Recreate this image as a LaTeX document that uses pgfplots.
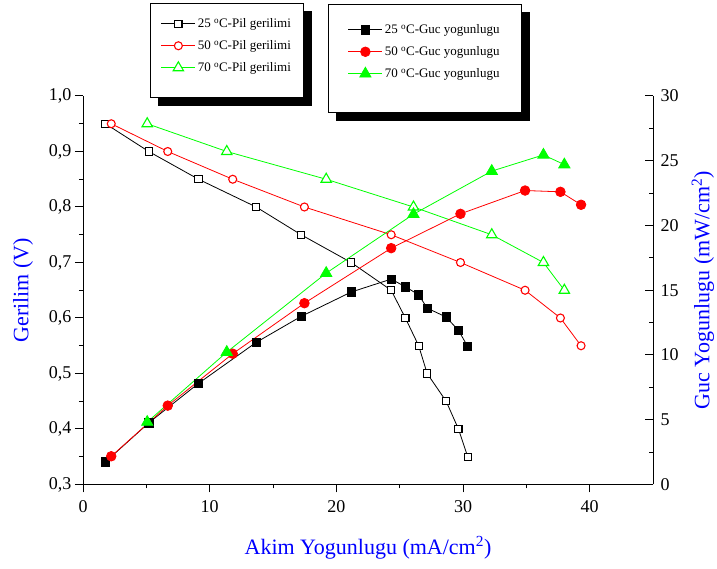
\documentclass[border=0pt]{standalone}
\usepackage{fontspec}
\setmainfont{Liberation Serif}
\usepackage{pgfplots}
\usepackage{pgfplotstable}
\pgfplotsset{compat=1.18}
\usetikzlibrary{backgrounds}
\definecolor{myred}{RGB}{255,0,0}
\definecolor{mygreen}{RGB}{0,255,0}
\definecolor{myblue}{RGB}{0,0,255}

\pgfplotstableread{
x V P
1.78 0.95 1.75
5.19 0.90 4.76
9.12 0.85 7.81
13.67 0.80 10.97
17.22 0.75 12.98
21.17 0.70 14.86
24.33 0.65 15.86
25.45 0.60 15.27
26.50 0.55 14.65
27.17 0.50 13.62
28.67 0.45 12.93
29.64 0.40 11.90
30.37 0.35 10.66
}\tA
\pgfplotstableread{
x V P
2.23 0.95 2.18
6.69 0.90 6.09
11.82 0.85 10.10
17.48 0.80 14.00
24.33 0.75 18.25
29.80 0.70 20.90
34.90 0.65 22.70
37.69 0.60 22.60
39.32 0.55 21.60
}\tB
\pgfplotstableread{
x V P
5.07 0.95 4.82
11.35 0.90 10.22
19.20 0.85 16.32
26.09 0.80 20.87
32.27 0.75 24.20
36.35 0.70 25.45
38.00 0.65 24.70
}\tC

\pgfplotsset{
  common/.style={
    at={(83pt,84.5pt)}, anchor=south west,
    scale only axis, width=570pt, height=388.5pt,
    xmin=0, xmax=45,
    axis line style={-, line width=1pt, black},
    major tick length=8pt, minor tick length=4pt,
    every tick/.style={black, line width=1pt},
    ticklabel style={font=\fontsize{18}{20}\selectfont},
    /pgf/number format/assume math mode=true,
    legend image code/.code={\draw[mark repeat=2,mark phase=2,##1] plot coordinates {(0pt,0pt) (17pt,0pt) (34pt,0pt)};},
  },
  lstyle/.style={draw=black, line width=1pt, fill=white,
    font=\fontsize{13}{15}\selectfont, cells={anchor=west},
    row sep=7.5pt},
}

\begin{document}
\begin{tikzpicture}[x=1pt,y=1pt]
\path[use as bounding box] (0,0) rectangle (717,569);
\begin{axis}[common,
  ymin=0.3, ymax=1.0,
  axis x line*=bottom, axis y line*=left,
  tick align=outside,
  xtick={0,10,20,30,40}, minor xtick={5,15,25,35},
  ytick={0.3,0.4,0.5,0.6,0.7,0.8,0.9,1.0},
  minor ytick={0.35,0.45,0.55,0.65,0.75,0.85,0.95},
  yticklabel style={/pgf/number format/.cd, use comma, fixed, fixed zerofill, precision=1},
  xticklabel style={yshift=-4pt},
  xlabel={Akim Yogunlugu (mA/cm\textsuperscript{2})},
  ylabel={Gerilim (V)},
  every axis x label/.style={at={(axis description cs:0.5,-0.1802)}, anchor=base, text=myblue, font=\fontsize{22}{24}\selectfont},
  every axis y label/.style={at={(axis description cs:-0.1053,0.5)}, rotate=90, anchor=center, text=myblue, font=\fontsize{22}{24}\selectfont},
  legend style={lstyle, name=legA, at={(axis description cs:0.1175,1.2394)}, anchor=north west, inner xsep=10.5pt, inner ysep=13pt},
]
\addplot[black, line width=0.8pt, mark=square*, mark size=3.6pt, mark options={solid, fill=white, line width=1.1pt}] table[x=x, y=V] {\tA};
\addlegendentry{25 \textsuperscript{o}C-Pil gerilimi}
\addplot[myred, line width=0.8pt, mark=*, mark size=4pt, mark options={solid, fill=white, line width=1.1pt}] table[x=x, y=V] {\tB};
\addlegendentry{50 \textsuperscript{o}C-Pil gerilimi}
\addplot[mygreen, line width=0.8pt, mark=triangle*, mark size=6pt, mark options={solid, fill=white, line width=1.1pt}] table[x=x, y=V] {\tC};
\addlegendentry{70 \textsuperscript{o}C-Pil gerilimi}
\addlegendimage{empty legend}
\addlegendentry[inner sep=0pt]{}
\end{axis}
\begin{axis}[common,
  ymin=0, ymax=30,
  hide x axis,
  axis y line*=right,
  tick align=inside,
  ytick={0,5,10,15,20,25,30},
  minor ytick={2.5,7.5,12.5,17.5,22.5,27.5},
  yticklabel style={xshift=4pt},
  ylabel={Guc Yogunlugu (mW/cm\textsuperscript{2})},
  every axis y label/.style={at={(axis description cs:1.0877,0.5)}, rotate=90, anchor=center, text=myblue, font=\fontsize{22}{24}\selectfont},
  legend style={lstyle, name=legB, at={(axis description cs:0.4298,1.2368)}, anchor=north west, inner xsep=19.5pt, inner ysep=18pt},
]
\addplot[black, line width=0.8pt, mark=square*, mark size=4.2pt, mark options={solid, fill=black}] table[x=x, y=P] {\tA};
\addlegendentry{25 \textsuperscript{o}C-Guc yogunlugu}
\addplot[myred, line width=0.8pt, mark=*, mark size=4.8pt, mark options={solid, fill=myred}] table[x=x, y=P] {\tB};
\addlegendentry{50 \textsuperscript{o}C-Guc yogunlugu}
\addplot[mygreen, line width=0.8pt, mark=triangle*, mark size=6.5pt, mark options={solid, fill=mygreen}] table[x=x, y=P] {\tC};
\addlegendentry{70 \textsuperscript{o}C-Guc yogunlugu}
\addlegendimage{empty legend}
\addlegendentry[inner sep=0pt]{\rule{0pt}{4.5pt}}
\end{axis}
\begin{pgfonlayer}{background}
\fill[black] ([xshift=8pt,yshift=-8pt]legA.south west) rectangle ([xshift=8pt,yshift=-8pt]legA.north east);
\fill[black] ([xshift=8pt,yshift=-8pt]legB.south west) rectangle ([xshift=8pt,yshift=-8pt]legB.north east);
\end{pgfonlayer}
\end{tikzpicture}
\end{document}
